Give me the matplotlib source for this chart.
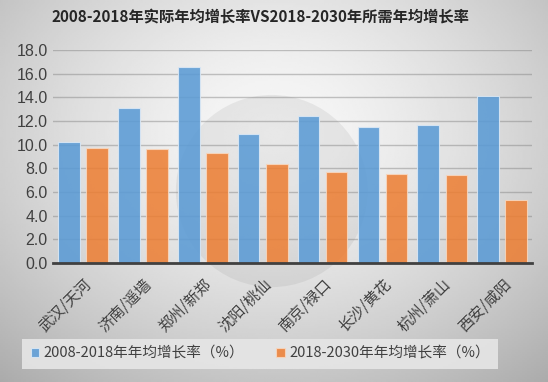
import numpy as np
import matplotlib
matplotlib.use("Agg")
import matplotlib.pyplot as plt
import matplotlib.patches as patches

plt.rcParams['font.family'] = ['Noto Sans CJK SC', 'DejaVu Sans']

cities = ["武汉/天河", "济南/遥墙", "郑州/新郑", "沈阳/桃仙", "南京/禄口",
          "长沙/黄花", "杭州/萧山", "西安/咸阳"]
growth_2008_2018 = [10.2, 13.1, 16.6, 10.9, 12.4, 11.5, 11.7, 14.1]
growth_2018_2030 = [9.7, 9.6, 9.3, 8.4, 7.7, 7.5, 7.4, 5.3]
series_names = ["2008-2018年年均增长率（%）", "2018-2030年年均增长率（%）"]
title = "2008-2018年实际年均增长率VS2018-2030年所需年均增长率"


def draw_background(fig):
    bg = fig.add_axes([0, 0, 1, 1], zorder=-10)
    yy, xx = np.mgrid[-1:1:200j, -1:1:300j]
    r = np.sqrt((xx * 0.95) ** 2 + ((yy + 0.3) * 0.85) ** 2)
    g = np.clip(0.97 - 0.17 * r ** 1.5, 0, 1)
    bg.imshow(g, cmap="gray", vmin=0, vmax=1, aspect="auto",
              extent=[0, 1, 0, 1], interpolation="bilinear")
    bg.set_xlim(0, 1)
    bg.set_ylim(0, 1)
    bg.axis("off")
    # faint watermark circle
    bg.add_patch(patches.Ellipse((0.496, 0.5), 0.35, 0.503, color="#808080",
                                 alpha=0.13, lw=0))


def main():
    fig = plt.figure(figsize=(5.48, 3.82), dpi=100)
    draw_background(fig)

    ax = fig.add_axes([0.097, 0.3115, 0.874, 0.5575])
    ax.patch.set_alpha(0)
    x = np.arange(len(cities))
    w = 0.36
    ax.bar(x - 0.235, growth_2008_2018, w, color="#5b9bd5", alpha=0.88,
           edgecolor="#dbe8f5", linewidth=0.8, label=series_names[0], zorder=3)
    ax.bar(x + 0.235, growth_2018_2030, w, color="#ed7d31", alpha=0.85,
           edgecolor="#f8d8c0", linewidth=0.8, label=series_names[1], zorder=3)

    ax.set_xlim(-0.5, len(cities) - 0.5)
    ax.set_ylim(0, 18)
    ax.set_yticks(np.arange(0, 19, 2))
    ax.set_yticklabels([f"{v:.1f}" for v in np.arange(0, 19, 2)],
                       fontsize=11.5, color="#404040",
                       family=["Liberation Sans", "DejaVu Sans"])
    ax.set_xticks(x)
    ax.set_xticklabels(cities, rotation=45, ha="right", rotation_mode="anchor",
                       fontsize=11, color="#404040")
    ax.tick_params(axis="y", length=0, pad=4)
    ax.tick_params(axis="x", length=0, pad=9)
    ax.grid(axis="y", color="#808080", alpha=0.45, linewidth=1, zorder=0)
    for s in ["top", "right", "left"]:
        ax.spines[s].set_visible(False)
    ax.spines["bottom"].set_color("#404040")
    ax.spines["bottom"].set_linewidth(2)
    ax.spines["bottom"].set_zorder(4)

    fig.text(0.475, 0.953, title, ha="center", va="center", fontsize=11,
             fontweight="heavy", color="#262626")

    leg = fig.legend(loc="center", bbox_to_anchor=(0.475, 0.0745), ncol=2,
                     frameon=True, fontsize=10.5, handlelength=0.6,
                     handleheight=0.6, handletextpad=0.3, columnspacing=2.2,
                     borderpad=0.35)
    leg.get_frame().set_facecolor("#e6e6e6")
    leg.get_frame().set_edgecolor("none")
    leg.get_frame().set_alpha(0.9)
    leg.get_frame().set_boxstyle("square", pad=0.2)
    for t in leg.get_texts():
        t.set_color("#404040")

    fig.savefig("out.png", dpi=100)


if __name__ == "__main__":
    main()
